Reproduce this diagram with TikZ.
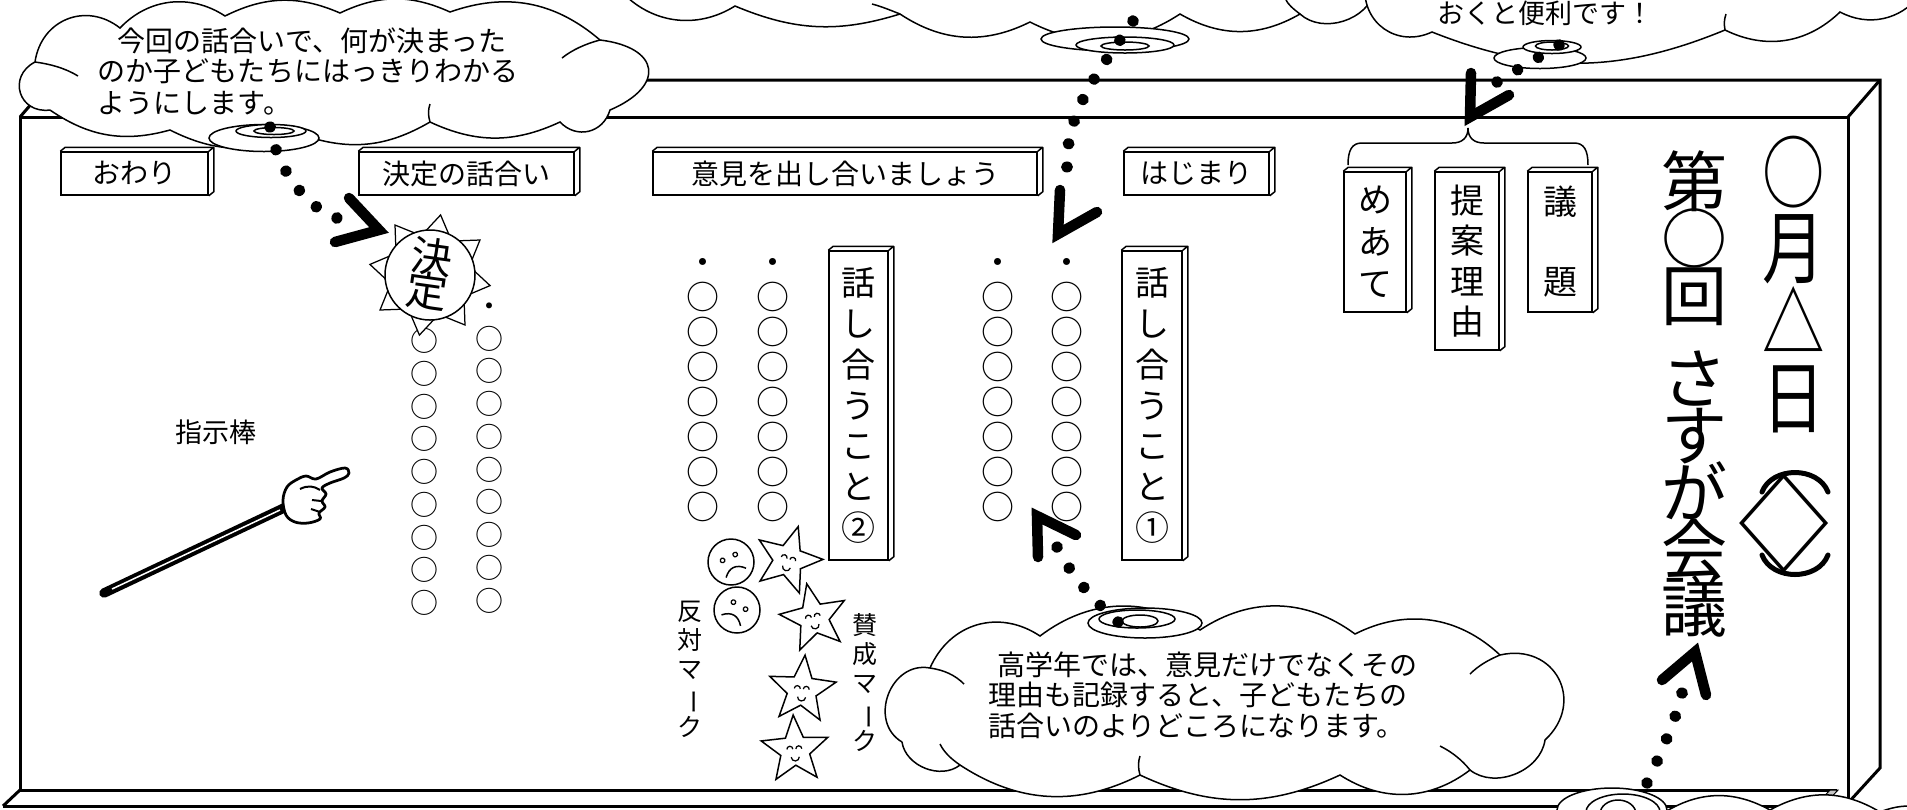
\documentclass[tikz,border=0pt]{standalone}
\usepackage{fontspec}
\usepackage{graphicx}
\usetikzlibrary{shapes.geometric,calc,fit,decorations.markings}
\newfontfamily\jp{Noto Sans CJK JP}
\newcommand\fsz[2]{\fontsize{#1}{#2}\selectfont\lineskiplimit=-100pt\lineskip=0pt}
% long vowel mark turned upright for vertical lines
\newcommand\vbar{\rotatebox[origin=c]{-90}{ー}}

\tikzset{
  boardline/.style={line width=1.2pt, line join=miter},
  plate/.style={draw, line width=0.6pt, fill=white, inner sep=0pt},
  depthline/.style={line width=0.6pt, line join=round},
  label jp/.style={font=\jp\fsz{11.2}{13}, inner sep=0pt},
  puffpath/.style={draw, fill=white, line width=0.6pt, line join=miter},
  hook/.style={line width=0.6pt},
  ring/.style={draw, fill=white, line width=0.6pt},
  chevron/.style={line width=4.2pt, line join=miter, miter limit=8, line cap=round},
  trail/.style={decoration={markings, mark=between positions 0 and 1 step #1 with {\fill (0,0) ellipse[x radius=5.5, y radius=6];}}, decorate},
  vcol/.style={align=center, inner sep=0pt},
  bracket arc/.style={line width=2pt, line cap=round},
  mark star/.style={star, star points=5, star point ratio=2.3, draw, line width=0.6pt, fill=white, minimum size=28pt, inner sep=0pt},
  smile/.pic={
    \draw[line width=0.5pt] (-8,-3) arc[start angle=180, end angle=360, radius=3];
    \draw[line width=0.5pt] (1,-3) arc[start angle=180, end angle=360, radius=3];
    \draw[line width=0.5pt] (-4,5) arc[start angle=180, end angle=0, radius=4];
  },
}
% raised face of a plate: top strip and right strip
\newcommand\platedepth[1]{%
  \draw[depthline] (#1.north west) -- ++(5,-4) -- ($(#1.north east)+(5,-4)$)
    -- ($(#1.south east)+(5,-4)$) -- (#1.south east) (#1.north east) -- ++(5,-4);}

\begin{document}
\begin{tikzpicture}[x=0.4pt, y=-0.4pt]
\useasboundingbox (0,0) rectangle (1907,809);
\clip (0,0) rectangle (1907,809);
\fill[white] (0,0) rectangle (1907,809);

% ---------- blackboard frame ----------
\draw[boardline] (20,790) -- (20,117) -- (1848,117) -- (1848,803);
\draw[boardline] (20,117) -- (52,80) -- (1880,80) -- (1880,768) -- (1848,803);
\draw[boardline] (1848,117) -- (1880,80);
\draw[boardline] (20,790) -- (1837,790);
\draw[boardline] (3,806) -- (1848,806);
\draw[boardline] (20,790) -- (3,806);
\fill[gray!45, draw=black, line width=0.4pt] (1830,790) -- (1838,790) -- (1823,806) -- (1815,806) -- cycle;

% ---------- section plates ----------
\node[plate, fit={(61,152)(208,195)}] (owari) {};
\platedepth{owari}
\node[label jp] (owaritext) at (owari.center) {おわり};
\node[plate, fit={(359,152)(574,195)}] (kettei) {};
\platedepth{kettei}
\node[label jp] (ketteitext) at (kettei.center) {決定の話合い};
\node[plate, fit={(653,152)(1037,195)}] (iken) {};
\platedepth{iken}
\node[label jp] (ikentext) at (iken.center) {意見を出し合いましょう};
\node[plate, fit={(1124,152)(1269,195)}] (hajimari) {};
\platedepth{hajimari}
\node[label jp] (hajimaritext) at (hajimari.center) {はじまり};

% ---------- vertical cards ----------
\node[plate, fit={(829,251)(888,560)}] (topic2) {};
\platedepth{topic2}
\node[vcol, font=\jp\fsz{13.6}{16.3}] (topic2text) at (topic2.center) {話\\し\\合\\う\\こ\\と\\②};
\node[plate, fit={(1122,251)(1182,560)}] (topic1) {};
\platedepth{topic1}
\node[vcol, font=\jp\fsz{13.6}{16.3}] (topic1text) at (topic1.center) {話\\し\\合\\う\\こ\\と\\①};
\node[plate, fit={(1344,172)(1406,312)}] (meate) {};
\platedepth{meate}
\node[vcol, font=\jp\fsz{13.6}{16.8}] (meatetext) at (meate.center) {め\\あ\\て};
\node[plate, fit={(1435,172)(1499,350)}] (riyu) {};
\platedepth{riyu}
\node[vcol, font=\jp\fsz{13.6}{16.1}] (riyutext) at (riyu.center) {提\\案\\理\\由};
\node[plate, fit={(1528,172)(1592,312)}] (gidai) {};
\platedepth{gidai}
\node[vcol, font=\jp\fsz{13.6}{16}] (gidaitext) at (gidai.center) {議\\　\\題};

% brace over the three cards
\draw[line width=0.6pt] (1348,165) .. controls (1348,150) and (1352,143) .. (1362,143) -- (1452,143)
  .. controls (1462,143) and (1468,138) .. (1468,128)
  .. controls (1468,138) and (1474,143) .. (1484,143) -- (1574,143)
  .. controls (1584,143) and (1588,150) .. (1588,165);

% ---------- written opinions ----------
\node[vcol, font=\jp\fsz{11.2}{13.1}] (colA) at (424,472) {○\\○\\○\\○\\○\\○\\○\\○\\○};
\node[vcol, font=\jp\fsz{11.2}{13.1}] (colB) at (489,458) {・\\○\\○\\○\\○\\○\\○\\○\\○\\○};
\node[vcol, font=\jp\fsz{13.2}{14}] (colC) at (703,390) {・\\○\\○\\○\\○\\○\\○\\○};
\node[vcol, font=\jp\fsz{13.2}{14}] (colD) at (773,390) {・\\○\\○\\○\\○\\○\\○\\○};
\node[vcol, font=\jp\fsz{13.2}{14}] (colE) at (998,390) {・\\○\\○\\○\\○\\○\\○\\○};
\node[vcol, font=\jp\fsz{13.2}{14}] (colF) at (1067,390) {・\\○\\○\\○\\○\\○\\○\\○};

% ---------- decision stamp ----------
\begin{scope}[shift={(430,275)}]
  \foreach \a in {35,80,...,350}
    \draw[line width=0.5pt, fill=white] ({-\a-16}:44) -- ({-\a}:61) -- ({-\a+16}:44) -- cycle;
\end{scope}
\node[circle, draw, fill=white, line width=0.6pt, minimum size=36pt, inner sep=0pt] (stamp) at (430,275) {};
\node[vcol, font=\jp\fsz{16.5}{14}, rotate=-8] (stamptext) at (430,274) {決\\定};

% ---------- pointer stick ----------
\node[font=\jp\fsz{10.8}{12}, inner sep=0pt] (sticklabel) at (216,432) {指示棒};
\draw[line width=3.8pt, line cap=round] (104,593) -- (286,507);
\draw[white, line width=0.6pt] (112,589) -- (280,510);
\draw[line width=1.1pt, fill=white, line join=round] plot[smooth cycle, tension=0.6] coordinates {
  (286,515) (283,500) (287,487) (296,480) (306,476) (316,479) (330,472) (345,468) (349,473)
  (344,478) (330,483) (322,488) (326,494) (322,501) (325,507) (319,513) (320,519) (308,523) (295,522)};
\draw[line width=0.8pt] (300,489) .. controls (308,485) and (314,486) .. (320,490);
\draw[line width=0.8pt] (312,500) -- (321,501);
\draw[line width=0.8pt] (311,509) -- (320,512);

% ---------- agree / disagree marks ----------
\node[circle, draw, line width=0.6pt, minimum size=18.4pt, inner sep=0pt] (sad1) at (731,562) {};
\begin{scope}[shift={(731,562)}, rotate=25]
  \draw[line width=0.5pt] (-7,-5) circle[radius=2.3] (7,-5) circle[radius=2.3];
  \draw[line width=0.6pt] (-11,12) .. controls (-4,4) and (4,4) .. (11,12);
\end{scope}
\node[circle, draw, line width=0.6pt, minimum size=18.4pt, inner sep=0pt] (sad2) at (737,610) {};
\begin{scope}[shift={(737,610)}, rotate=-30]
  \draw[line width=0.5pt] (-7,-5) circle[radius=2.3] (7,-5) circle[radius=2.3];
  \draw[line width=0.6pt] (-11,12) .. controls (-4,4) and (4,4) .. (11,12);
\end{scope}
\node[mark star, rotate=-17] (star1) at (788,560) {};
\pic[rotate=-17] at (788,562) {smile};
\node[mark star, rotate=12] (star2) at (814,618) {};
\pic[rotate=12] at (814,620) {smile};
\node[mark star, rotate=-5] (star3) at (802,690) {};
\pic[rotate=-5] at (802,692) {smile};
\node[mark star, rotate=3] (star4) at (795,750) {};
\pic[rotate=3] at (795,752) {smile};
\node[vcol, font=\jp\fsz{10}{11.6}] (nolabel) at (690,669) {反\\対\\マ\\\vbar\\ク};
\node[vcol, font=\jp\fsz{10}{11.6}] (yeslabel) at (865,683) {賛\\成\\マ\\\vbar\\ク};

% ---------- title ----------
\node[vcol, font=\jp\fsz{32}{30}, xscale=0.78] (date) at (1794,285) {○\\月\\△\\日};
\node[font=\jp\fsz{30.4}{30}, inner sep=0pt, xscale=1.2, yscale=1.35] (weekday) at (1784,523) {◇};
% vertical-writing brackets round the weekday
\draw[bracket arc] (1762,492) .. controls (1772,466) and (1818,466) .. (1828,492);
\draw[bracket arc] (1762,555) .. controls (1772,581) and (1818,581) .. (1828,555);
\node[vcol, font=\jp\fsz{26.4}{22.8}] (count) at (1694,238) {第\\○\\回};
\node[vcol, font=\jp\fsz{26.4}{22.8}] (meeting) at (1694,494) {さ\\す\\が\\会\\議};

% ---------- speech clouds ----------
% upper left
\path[puffpath] (50,110) to[bend left=80, looseness=1.6] (35,62) to[bend left=60, looseness=1.2] (120,28)
  to[bend left=40] (225,16) to[bend left=25] (340,13) to[bend left=25] (450,12)
  to[bend left=30] (600,40) to[bend left=75, looseness=2.2] (610,110) to[bend left=60, looseness=1.2] (560,122)
  to[bend left=25] (430,122) to[bend left=25] (300,134) to[bend left=25] (170,130) to[bend left=25] (50,110);
\draw[hook] (35,62) .. controls (50,64) and (65,68) .. (78,76);
\draw[hook] (600,40) .. controls (585,44) and (572,50) .. (562,58);
\draw[hook] (430,122) .. controls (428,115) and (428,110) .. (430,104);
% top middle
\path[puffpath] (1375,-10) to[bend left=60] (1300,14) to[bend left=30] (1180,14) to[bend left=30] (1030,22)
  to[bend left=30] (900,14) to[bend left=20] (735,6) to[bend left=40] (620,-10)
  -- (620,-60) -- (1375,-60) -- cycle;
\draw[hook] (1300,14) .. controls (1292,8) and (1288,4) .. (1286,0);
\draw[hook] (900,14) .. controls (890,10) and (880,6) .. (872,4);
% top right
\path[puffpath] (1920,-5) to[bend left=40] (1840,12) to[bend left=35] (1725,30) to[bend left=22] (1432,32)
  to[bend left=60, looseness=1.2] (1365,-15) -- (1365,-60) -- (1920,-60) -- cycle;
\draw[hook] (1725,30) .. controls (1724,24) and (1724,20) .. (1726,14);
% bottom middle
\path[puffpath] (902,742) to[bend left=80, looseness=1.3] (930,668) to[bend left=50, looseness=1.1] (1040,636)
  to[bend left=35] (1200,630) to[bend left=35] (1355,634) to[bend left=35] (1500,655)
  to[bend left=75, looseness=1.5] (1545,740) to[bend left=60] (1470,770) to[bend left=35] (1340,775)
  to[bend left=25] (1140,775) to[bend left=30] (960,765) to[bend left=60] (902,742);
\draw[hook] (930,668) .. controls (944,670) and (955,675) .. (964,684);
\draw[hook] (960,765) .. controls (950,758) and (944,752) .. (940,744);
\draw[hook] (1500,655) .. controls (1488,660) and (1478,666) .. (1470,674);
\draw[hook] (1470,770) .. controls (1462,760) and (1452,752) .. (1440,746);
\draw[hook] (1140,775) .. controls (1138,768) and (1138,762) .. (1140,756);
% bottom right
\path[puffpath] (1545,840) to[bend left=35] (1665,812) to[bend left=30] (1770,810) to[bend left=30] (1880,812)
  to[bend left=35] (1960,830) -- (1960,900) -- (1545,900) -- cycle;

\node[font=\jp\fsz{11.2}{12.4}, align=left, inner sep=0pt] (noteA) at (308,71)
  {\hspace*{8pt}今回の話合いで、何が決まった\\のか子どもたちにはっきりわかる\\ようにします。};
\node[font=\jp\fsz{11.2}{12.2}, align=left, inner sep=0pt] (noteB) at (1203,695)
  {\hspace*{3.6pt}高学年では、意見だけでなくその\\理由も記録すると、子どもたちの\\話合いのよりどころになります。};
\node[font=\jp\fsz{10.8}{12}, inner sep=0pt] (noteC) at (1545,13) {おくと便利です！};

% cloud tails
\draw[ring] (264,138) ellipse [x radius=55, y radius=13.5];
\draw[ring] (271,131) ellipse [x radius=35, y radius=6.5];
\draw[ring] (274,131) ellipse [x radius=20, y radius=3.5];
\draw[ring] (1115,39) ellipse [x radius=74, y radius=12];
\draw[ring] (1125,45) ellipse [x radius=49, y radius=8];
\draw[ring] (1125,46) ellipse [x radius=24, y radius=4];
\draw[ring] (1540,58) ellipse [x radius=46, y radius=10.5];
\draw[ring] (1552,47) ellipse [x radius=29, y radius=6.5];
\draw[ring] (1552,46) ellipse [x radius=16.5, y radius=4];
\draw[ring] (1145,623) ellipse [x radius=57, y radius=15];
\draw[ring] (1137,619) ellipse [x radius=38, y radius=9];
\draw[ring] (1140,621) ellipse [x radius=18, y radius=6];
\draw[ring] (1612,810) ellipse [x radius=55, y radius=22];
\draw[ring] (1623,812) ellipse [x radius=37, y radius=18];
\draw[ring] (1618,814) ellipse [x radius=18, y radius=14];

% ---------- dotted pointers ----------
\coordinate (a1) at (270,127);   \coordinate (a1e) at (337,218);  \coordinate (h1) at (379,230);
\coordinate (a2) at (1133,21);   \coordinate (a2e) at (1067,167); \coordinate (h2) at (1058,234);
\coordinate (a3) at (1559,45);   \coordinate (a3e) at (1497,82);  \coordinate (h3) at (1470,117);
\coordinate (a4) at (1118,622);  \coordinate (a4e) at (1057,547); \coordinate (h4) at (1037,516);
\coordinate (a5) at (1647,783);  \coordinate (a5e) at (1682,693); \coordinate (h5) at (1695,652);

\path[trail=0.1999] (a1) .. controls (275,160) and (300,205) .. (a1e);
\path[trail=0.14285] (a2) .. controls (1100,70) and (1066,110) .. (a2e);
\path[trail=0.3333] (a3) -- (a3e);
\path[trail=0.2499] (a4) .. controls (1090,598) and (1068,570) .. (a4e);
\path[trail=0.2499] (a5) .. controls (1660,755) and (1676,720) .. (a5e);

\draw[chevron] (349,198) -- (h1) -- (335,242);
\draw[chevron] (1060,190) -- (h2) -- (1097,212);
\draw[chevron] (1471,73) -- (h3) -- (1509,95);
\draw[chevron] (1038,557) -- (h4) -- (1076,535);
\draw[chevron] (1662,680) -- (h5) -- (1706,695);
\end{tikzpicture}
\end{document}
